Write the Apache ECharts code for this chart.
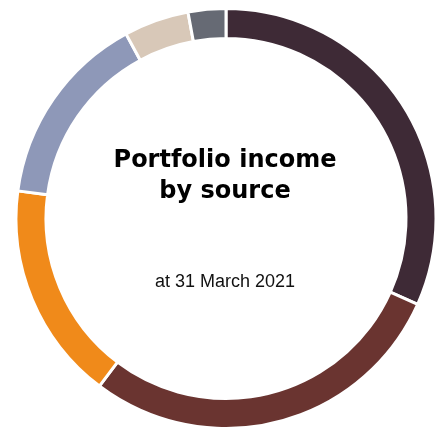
<!DOCTYPE html>
<html>
<head>
<meta charset="utf-8">
<script src="https://cdn.jsdelivr.net/npm/echarts@6/dist/echarts.min.js"></script>
<style>
  html, body { margin: 0; padding: 0; background: #fff; }
  #chart { width: 445px; height: 429px; }
</style>
</head>
<body>
<div id="chart"></div>
<script>
var sources = ['Source 1', 'Source 2', 'Source 3', 'Source 4', 'Source 5', 'Source 6'];
var shares = [31.7, 28.6, 16.8, 15.0, 5.0, 2.9];
var colours = ['#3e2a36', '#6a3430', '#f08a1a', '#8e98b8', '#d8c8b8', '#666a74'];

var myChart = echarts.init(document.getElementById('chart'));

var option = {
  animation: false,
  graphic: [
    {
      type: 'text',
      x: 225,
      y: 176,
      style: {
        text: 'Portfolio income\nby source',
        fill: '#000',
        font: 'bold 24px "DejaVu Sans"',
        lineHeight: 31,
        align: 'center',
        verticalAlign: 'middle'
      }
    },
    {
      type: 'text',
      x: 225,
      y: 282,
      style: {
        text: 'at 31 March 2021',
        fill: '#111',
        font: '18px "Liberation Sans Narrow", "Liberation Sans"',
        align: 'center',
        verticalAlign: 'middle'
      }
    }
  ],
  series: [
    {
      type: 'pie',
      center: [226, 218.5],
      radius: [180, 210],
      startAngle: 90,
      clockwise: true,
      label: { show: false },
      labelLine: { show: false },
      itemStyle: {
        borderColor: '#fff',
        borderWidth: 3
      },
      data: sources.map(function (name, i) {
        return { name: name, value: shares[i], itemStyle: { color: colours[i] } };
      })
    }
  ]
};

myChart.setOption(option);
</script>
</body>
</html>
